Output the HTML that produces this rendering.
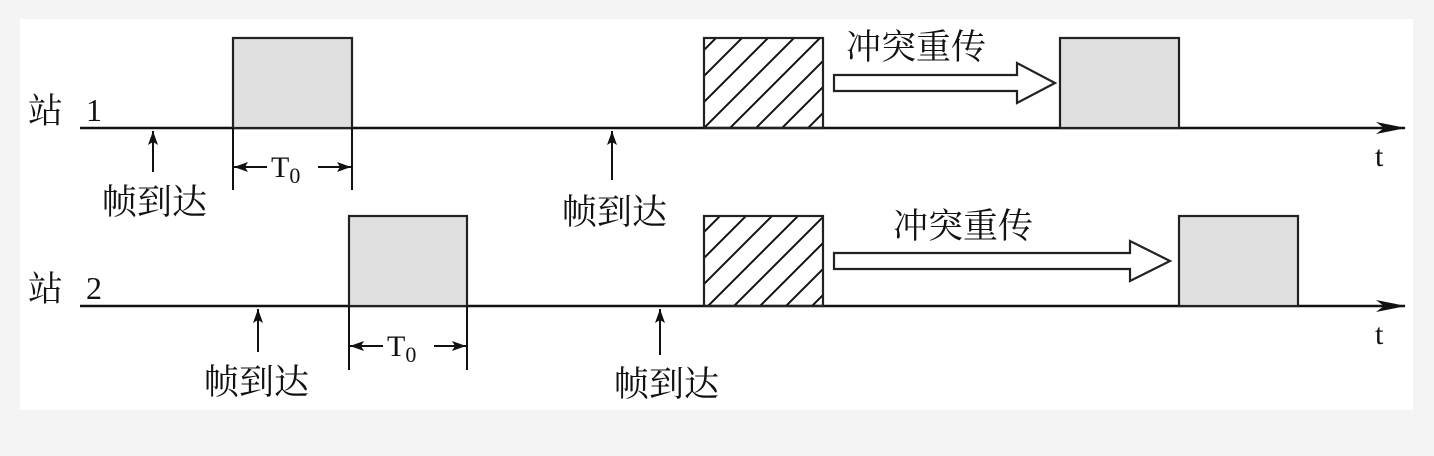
<!DOCTYPE html>
<html><head><meta charset="utf-8"><style>
html,body{margin:0;padding:0;background:#f4f4f4;}
svg{display:block;}
text{font-family:"Liberation Serif","Noto Serif CJK SC",serif;fill:#111;}
</style></head><body>
<svg width="1434" height="456" viewBox="0 0 1434 456" xmlns="http://www.w3.org/2000/svg">
<defs>
<marker id="ah" markerWidth="14" markerHeight="10" refX="14" refY="5" orient="auto" markerUnits="userSpaceOnUse"><path d="M0,0 L14,5 L0,10 L3,5 z" fill="#111"/></marker>
<marker id="big" markerWidth="30" markerHeight="12" refX="29" refY="6" orient="auto" markerUnits="userSpaceOnUse"><path d="M0,0 L30,6 L0,12 L8,6 z" fill="#111"/></marker>
<pattern id="hatch" patternUnits="userSpaceOnUse" width="26" height="26">
<path d="M-2,28 L28,-2 M-15,15 L15,-15 M11,41 L41,11" stroke="#111" stroke-width="2"/>
</pattern>
</defs>
<rect x="20" y="19" width="1393" height="391" fill="#fff"/>
<g stroke="#111" stroke-width="2.5" fill="none">
<line x1="80" y1="128" x2="1405" y2="128" marker-end="url(#big)"/>
<line x1="80" y1="306" x2="1405" y2="306" marker-end="url(#big)"/>
</g>
<g stroke="#222" stroke-width="2.2" fill="#e0e0e0">
<rect x="233" y="38" width="119" height="90"/>
<rect x="1060" y="38" width="119" height="90"/>
<rect x="349" y="216" width="118" height="90"/>
<rect x="1179" y="216" width="119" height="90"/>
<rect x="704" y="38" width="119" height="90" fill="url(#hatch)"/>
<rect x="704" y="216" width="119" height="90" fill="url(#hatch)"/>
</g>
<g stroke="#222" stroke-width="2.2" fill="#fff">
<path d="M834,75 L1017,75 L1017,63 L1055,83 L1017,103 L1017,91 L834,91 Z"/>
<path d="M834,253 L1130,253 L1130,241 L1170,261 L1130,281 L1130,269 L834,269 Z"/>
</g>
<g stroke="#111" stroke-width="2" fill="none">
<line x1="153" y1="172" x2="153" y2="131" marker-end="url(#ah)"/>
<line x1="612" y1="180" x2="612" y2="131" marker-end="url(#ah)"/>
<line x1="258" y1="352" x2="258" y2="309" marker-end="url(#ah)"/>
<line x1="660" y1="355" x2="660" y2="309" marker-end="url(#ah)"/>
<line x1="233" y1="128" x2="233" y2="190"/>
<line x1="352" y1="128" x2="352" y2="190"/>
<line x1="267" y1="167" x2="234" y2="167" marker-end="url(#ah)"/>
<line x1="318" y1="167" x2="351" y2="167" marker-end="url(#ah)"/>
<line x1="349" y1="306" x2="349" y2="370"/>
<line x1="467" y1="306" x2="467" y2="370"/>
<line x1="383" y1="346" x2="350" y2="346" marker-end="url(#ah)"/>
<line x1="434" y1="346" x2="466" y2="346" marker-end="url(#ah)"/>
</g>
<g font-size="35">
<text x="28" y="123">站</text><text x="86" y="121" font-size="32">1</text>
<text x="28" y="301">站</text><text x="86" y="299" font-size="32">2</text>
<text x="102" y="214">帧到达</text>
<text x="562" y="224">帧到达</text>
<text x="204" y="394">帧到达</text>
<text x="614" y="396">帧到达</text>
<text x="846" y="59">冲突重传</text>
<text x="893" y="238">冲突重传</text>
<text x="1375" y="166" font-size="30">t</text>
<text x="1375" y="344" font-size="30">t</text>
<text x="271" y="177" font-size="30">T<tspan font-size="22" dy="6">0</tspan></text>
<text x="387" y="356" font-size="30">T<tspan font-size="22" dy="6">0</tspan></text>
</g>
</svg>
</body></html>
